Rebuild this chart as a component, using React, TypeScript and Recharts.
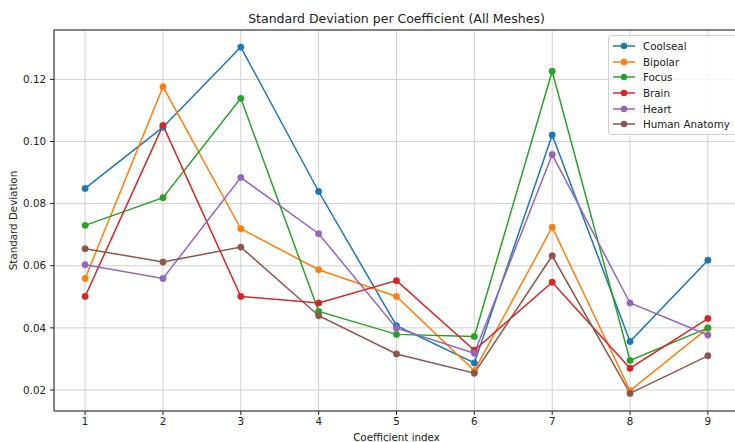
import { CartesianGrid, Legend, Line, LineChart, ReferenceLine, XAxis, YAxis } from "recharts";

const coefficients = [1, 2, 3, 4, 5, 6, 7, 8, 9];
const coolseal = [0.0849, 0.1046, 0.1304, 0.0839, 0.0407, 0.0287, 0.1021, 0.0356, 0.0618];
const bipolar = [0.0559, 0.1176, 0.0719, 0.0587, 0.0501, 0.0262, 0.0724, 0.0198, 0.0399];
const focus = [0.073, 0.0819, 0.1139, 0.0453, 0.0379, 0.0372, 0.1226, 0.0295, 0.04];
const brain = [0.0501, 0.1052, 0.0501, 0.048, 0.0552, 0.0328, 0.0547, 0.027, 0.043];
const heart = [0.0603, 0.0559, 0.0884, 0.0703, 0.0399, 0.0318, 0.0958, 0.048, 0.0377];
const humanAnatomy = [0.0655, 0.0612, 0.066, 0.0439, 0.0316, 0.0254, 0.0632, 0.0189, 0.031];
const yTicks = [0.02, 0.04, 0.06, 0.08, 0.1, 0.12];

const series = [
  { key: "Coolseal", values: coolseal, color: "#1f77b4" },
  { key: "Bipolar", values: bipolar, color: "#ff7f0e" },
  { key: "Focus", values: focus, color: "#2ca02c" },
  { key: "Brain", values: brain, color: "#d62728" },
  { key: "Heart", values: heart, color: "#9467bd" },
  { key: "Human Anatomy", values: humanAnatomy, color: "#8c564b" },
];

const data = coefficients.map((c, i) => {
  const row: Record<string, number> = { coef: c };
  series.forEach((s) => (row[s.key] = s.values[i]));
  return row;
});

const font = "'DejaVu Sans', sans-serif";
const yMin = 0.01323;
const yMax = 0.1359;

function YLabel(props: any) {
  const vb = props.viewBox || { x: 0, y: 30, height: 381 };
  const cx = 13;
  const cy = vb.y + vb.height / 2;
  return (
    <text x={cx} y={cy} transform={`rotate(-90 ${cx} ${cy})`} textAnchor="middle" dominantBaseline="central" fontSize={10.3} fill="#222" fontFamily={font}>
      Standard Deviation
    </text>
  );
}

function XLabel() {
  return (
    <text x={396.5} y={437} textAnchor="middle" dominantBaseline="central" fontSize={10.3} fill="#222" fontFamily={font}>
      Coefficient index
    </text>
  );
}

function LegendBox() {
  return (
    <div
      style={{
        background: "rgba(255,255,255,0.8)",
        border: "1px solid #d0d0d0",
        borderRadius: 3,
        padding: "2px 6px 2px 4px",
        fontFamily: font,
        fontSize: 10.3,
        color: "#222",
      }}
    >
      {series.map((s) => (
        <div key={s.key} style={{ display: "flex", alignItems: "center", height: 15.7 }}>
          <svg width={22} height={10} style={{ marginRight: 8 }}>
            <line x1={0} y1={5} x2={22} y2={5} stroke={s.color} strokeWidth={1.5} />
            <circle cx={11} cy={5} r={3.2} fill={s.color} />
          </svg>
          <span>{s.key}</span>
        </div>
      ))}
    </div>
  );
}

export default function App() {
  return (
    <div style={{ position: "fixed", left: 0, top: 0, width: 735, height: 442, overflow: "hidden", background: "#fff" }}>
      <div
        style={{
          position: "absolute",
          left: 54,
          width: 685,
          top: 11,
          textAlign: "center",
          fontFamily: font,
          fontSize: 12.5,
          color: "#222",
        }}
      >
        Standard Deviation per Coefficient (All Meshes)
      </div>
      <LineChart width={745} height={442} data={data} margin={{ top: 30, right: 6, bottom: 0, left: 0 }}>
        <CartesianGrid stroke="#d0d0d0" strokeWidth={1} />
        <XAxis
          dataKey="coef"
          type="number"
          domain={[0.6, 9.4]}
          ticks={coefficients}
          allowDataOverflow
          height={31}
          stroke="#222"
          tickSize={4}
          tickMargin={3}
          tick={{ fontSize: 10.3, fill: "#222", fontFamily: font }}
          label={<XLabel />}
        />
        <YAxis
          type="number"
          domain={[yMin, yMax]}
          ticks={yTicks}
          allowDataOverflow
          width={54}
          stroke="#222"
          tickSize={4}
          tickMargin={4}
          tickFormatter={(v: number) => v.toFixed(2)}
          tick={{ fontSize: 10.3, fill: "#222", fontFamily: font }}
          label={<YLabel />}
        />
        <ReferenceLine y={yMax} stroke="#222" strokeWidth={1} ifOverflow="visible" />
        {series.map((s) => (
          <Line
            key={s.key}
            dataKey={s.key}
            stroke={s.color}
            strokeWidth={1.5}
            dot={{ r: 3.2, fill: s.color, stroke: s.color, strokeWidth: 0.5 }}
            activeDot={false}
            isAnimationActive={false}
          />
        ))}
        <Legend
          layout="vertical"
          align="center"
          verticalAlign="middle"
          content={() => <LegendBox />}
          wrapperStyle={{ position: "absolute", left: 608, top: 35, width: "auto" }}
        />
      </LineChart>
    </div>
  );
}
